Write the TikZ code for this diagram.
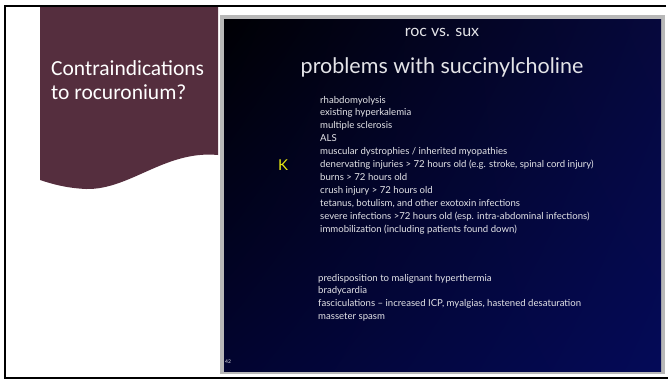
\documentclass[tikz,border=0pt]{standalone}
\usepackage{fontspec}
\usetikzlibrary{shadings}
\setmainfont{Lato}
\newfontfamily\bannerfont{Carlito}

\definecolor{bannercolor}{HTML}{552E3E}
\definecolor{slidetext}{HTML}{E4E4E8}
\definecolor{slidegray}{HTML}{B8B8B8}
\definecolor{markcolor}{HTML}{E8E810}
\definecolor{slideUL}{HTML}{000004}
\definecolor{slideUR}{HTML}{06083C}
\definecolor{slideLL}{HTML}{020430}
\definecolor{slideLR}{HTML}{040A58}

\tikzset{
  item/.style={anchor=base west, inner sep=0pt, text=slidetext,
    font=\fontsize{9.6}{11}\selectfont},
  heading/.style={inner sep=0pt, text=slidetext},
}

\begin{document}
\begin{tikzpicture}[x=1pt,y=-1pt]

    \def\rowgap{12.95}
    \useasboundingbox (0,0) rectangle (668,380);
    \fill[white] (0,0) rectangle (668,380);

    % banner with the wavy lower edge
    \fill[bannercolor] (40,6) -- (218,6) -- (218,155)
        .. controls (165,150) and (130,190) .. (86,189)
        .. controls (66,188) and (52,184) .. (40,180) -- cycle;
    \node[text=white, align=left, anchor=west, inner sep=0pt,
          font=\bannerfont\fontsize{21.5}{24}\selectfont] (question) at (51,80)
        {Contraindications\\to rocuronium?};

    % outer frame, open on the right
    \draw[line width=1.6pt] (666,6) -- (5,6) -- (5,378) -- (668,378);

    % slide with its grey border
    \fill[slidegray] (220,15) rectangle (665,374);
    \shade[upper left=slideUL, upper right=slideUR,
           lower left=slideLL, lower right=slideLR]
        (224,19) rectangle (661,371);

    \node[heading, font=\fontsize{16}{18}\selectfont] (title) at (442,32) {roc vs. sux};
    \node[heading, font=\fontsize{21.5}{24}\selectfont] (subtitle) at (442,67)
        {problems with succinylcholine};

    \node[text=markcolor, inner sep=0pt, font=\fontsize{15}{16}\selectfont] (K) at (283,165) {K};

    \foreach \txt [count=\i] in {rhabdomyolysis, existing hyperkalemia,
        multiple sclerosis, ALS, muscular dystrophies / inherited myopathies,
        {denervating injuries > 72 hours old (e.g. stroke, spinal cord injury)},
        burns > 72 hours old, crush injury > 72 hours old,
        {tetanus, botulism, and other exotoxin infections},
        severe infections >72 hours old (esp. intra-abdominal infections),
        immobilization (including patients found down)}
        \node[item] (hyperK-\i) at (320,{103+\rowgap*(\i-1)}) {\txt};

    \foreach \txt [count=\i] in {predisposition to malignant hyperthermia,
        bradycardia,
        {fasciculations -- increased ICP,  myalgias, hastened desaturation},
        masseter spasm}
        \node[item] (other-\i) at (318,{281+\rowgap*(\i-1)}) {\txt};

    \node[text=slidetext, inner sep=0pt, font=\fontsize{5}{6}\selectfont] (pagenum) at (228,362) {42};
\end{tikzpicture}
\end{document}
